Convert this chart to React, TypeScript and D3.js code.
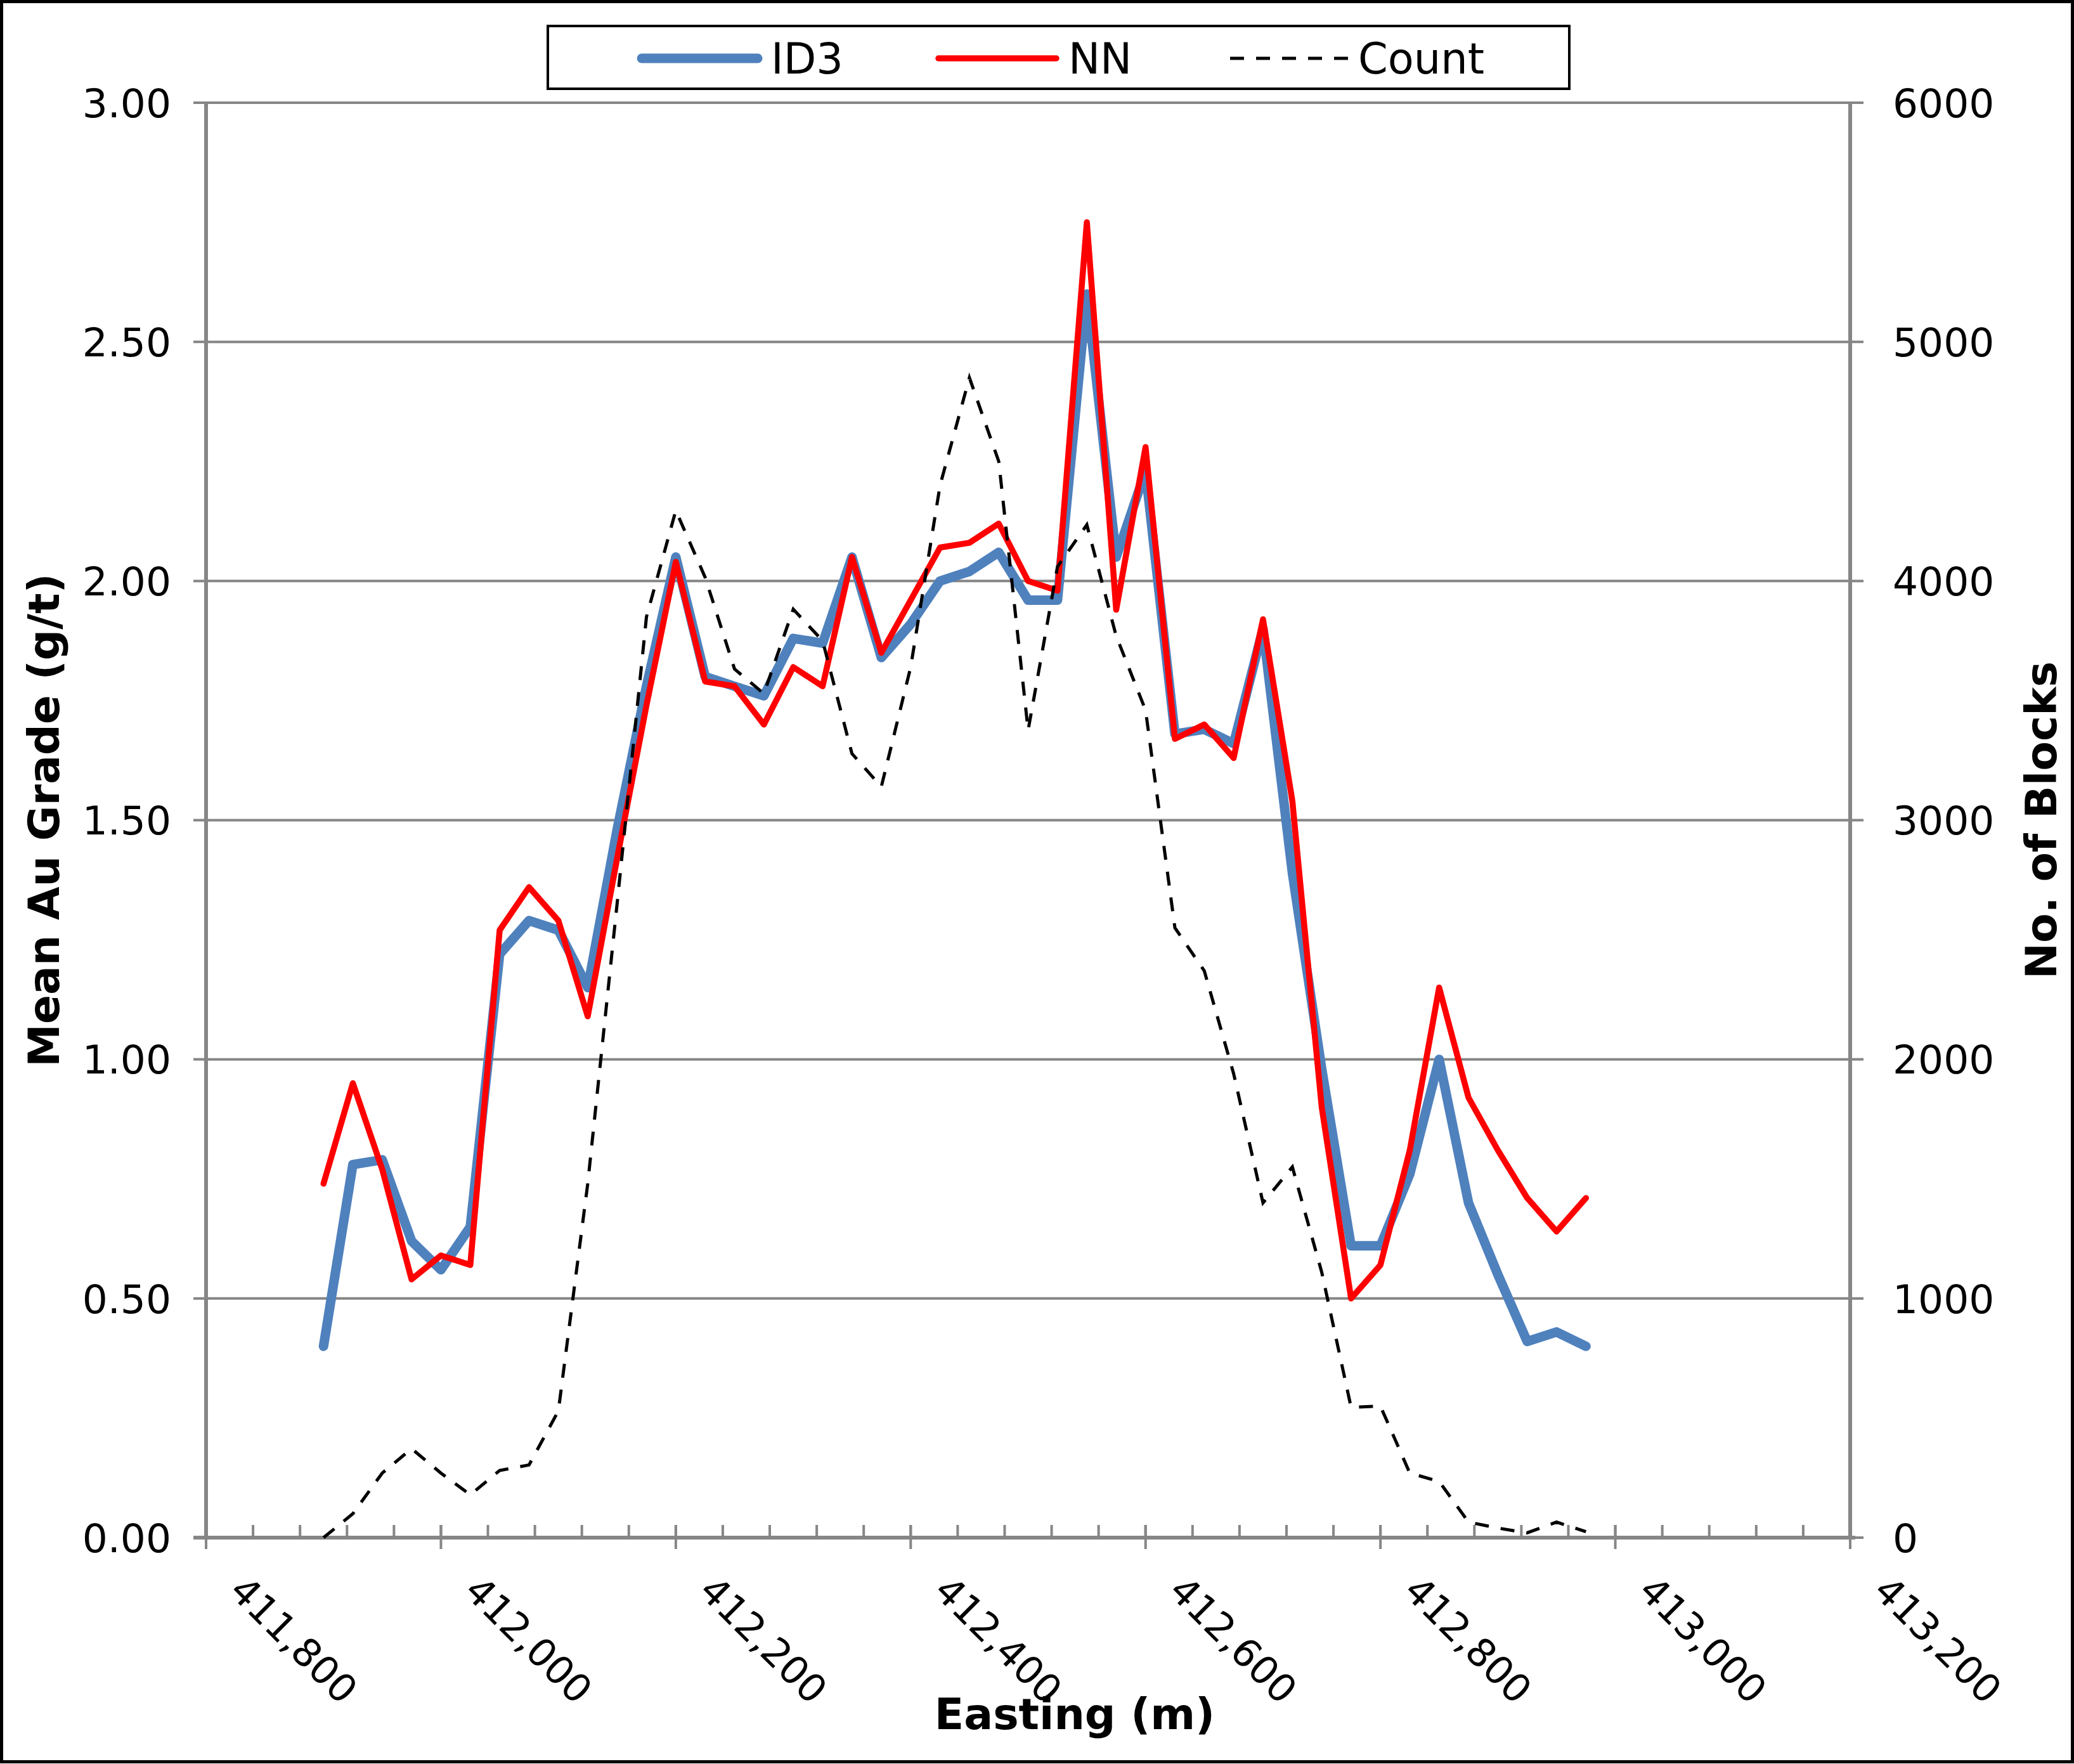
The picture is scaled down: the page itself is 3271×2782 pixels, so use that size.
import React from 'react';
import * as d3 from 'd3';

const eastings = [
  411900, 411925, 411950, 411975, 412000, 412025, 412050, 412075, 412100, 412125,
  412150, 412175, 412200, 412225, 412250, 412275, 412300, 412325, 412350, 412375,
  412400, 412425, 412450, 412475, 412500, 412525, 412550, 412575, 412600, 412625,
  412650, 412675, 412700, 412725, 412750, 412775, 412800, 412825, 412850, 412875,
  412900, 412925, 412950, 412975,
];

const id3 = [
  0.40, 0.78, 0.79, 0.62, 0.56, 0.65, 1.22, 1.29, 1.27, 1.15,
  1.48, 1.78, 2.05, 1.80, 1.78, 1.76, 1.88, 1.87, 2.05, 1.84,
  1.91, 2.00, 2.02, 2.06, 1.96, 1.96, 2.60, 2.05, 2.23, 1.68,
  1.69, 1.66, 1.90, 1.39, 0.98, 0.61, 0.61, 0.76, 1.00, 0.70,
  0.55, 0.41, 0.43, 0.40,
];

const nn = [
  0.74, 0.95, 0.77, 0.54, 0.59, 0.57, 1.27, 1.36, 1.29, 1.09,
  1.42, 1.74, 2.04, 1.79, 1.78, 1.70, 1.82, 1.78, 2.05, 1.85,
  1.96, 2.07, 2.08, 2.12, 2.00, 1.98, 2.75, 1.94, 2.28, 1.67,
  1.70, 1.63, 1.92, 1.54, 0.90, 0.50, 0.57, 0.81, 1.15, 0.92,
  0.81, 0.71, 0.64, 0.71,
];

const counts = [
  0, 100, 270, 372, 270, 179, 281, 304, 530, 1480,
  2650, 3850, 4295, 4015, 3632, 3529, 3882, 3750, 3278, 3140,
  3640, 4400, 4850, 4500, 3376, 4060, 4235, 3770, 3460, 2550,
  2370, 1940, 1400, 1550, 1110, 545, 550, 270, 235, 65,
  40, 20, 65, 25,
];

const leftTicks = [0, 0.5, 1.0, 1.5, 2.0, 2.5, 3.0];
const rightTicks = [0, 1000, 2000, 3000, 4000, 5000, 6000];
const xTicks = [411800, 412000, 412200, 412400, 412600, 412800, 413000, 413200];

const W = 3271;
const H = 2782;
const PL = 325;
const PR = 2918;
const PT = 162;
const PB = 2425;
const AXIS = '#868686';
const FONT = '"DejaVu Sans", Verdana, sans-serif';

export default function App() {
  const x = d3.scaleLinear().domain([411800, 413200]).range([PL, PR]);
  const yL = d3.scaleLinear().domain([0, 3]).range([PB, PT]);
  const yR = d3.scaleLinear().domain([0, 6000]).range([PB, PT]);
  const minor = d3.range(411800, 413201, 40);

  const lineL = d3
    .line<number>()
    .x((_, i) => x(eastings[i]))
    .y((d) => yL(d));
  const lineR = d3
    .line<number>()
    .x((_, i) => x(eastings[i]))
    .y((d) => yR(d));

  const fmtL = d3.format('.2f');
  const fmtX = d3.format(',');

  return (
    <svg
      width={W}
      height={H}
      style={{ position: 'absolute', left: 0, top: 0, background: '#fff' }}
      fontFamily={FONT}
    >
      <rect x={0} y={0} width={W} height={H} fill="#fff" />
      <rect x={2.5} y={2.5} width={W - 5} height={H - 6} fill="none" stroke="#000" strokeWidth={5} />

      {/* gridlines */}
      {leftTicks.slice(1).map((t) => (
        <line key={'g' + t} x1={PL} x2={PR} y1={yL(t)} y2={yL(t)} stroke={AXIS} strokeWidth={4} />
      ))}

      {/* left axis */}
      <line x1={PL} x2={PL} y1={PT} y2={PB} stroke={AXIS} strokeWidth={6} />
      {leftTicks.map((t) => (
        <g key={'l' + t}>
          <line x1={PL - 20} x2={PL} y1={yL(t)} y2={yL(t)} stroke={AXIS} strokeWidth={4} />
          <text x={270} y={yL(t)} dy="0.36em" textAnchor="end" fontSize={63} fill="#000">
            {fmtL(t)}
          </text>
        </g>
      ))}

      {/* right axis */}
      <line x1={PR} x2={PR} y1={PT} y2={PB} stroke={AXIS} strokeWidth={6} />
      {rightTicks.map((t) => (
        <g key={'r' + t}>
          <line x1={PR} x2={PR + 21} y1={yR(t)} y2={yR(t)} stroke={AXIS} strokeWidth={4} />
          <text x={2985} y={yR(t)} dy="0.36em" textAnchor="start" fontSize={63} fill="#000">
            {t}
          </text>
        </g>
      ))}

      {/* bottom axis */}
      {minor.map((t) => (
        <line key={'m' + t} x1={x(t)} x2={x(t)} y1={PB - 20} y2={PB} stroke={AXIS} strokeWidth={4} />
      ))}
      {xTicks.map((t) => (
        <line key={'M' + t} x1={x(t)} x2={x(t)} y1={PB - 20} y2={PB + 18} stroke={AXIS} strokeWidth={4} />
      ))}
      <line x1={PL - 20} x2={PR + 8} y1={PB} y2={PB} stroke={AXIS} strokeWidth={6} />
      {xTicks.map((t) => (
        <text
          key={'xl' + t}
          transform={`translate(${x(t) + 34},${2512}) rotate(45)`}
          textAnchor="start"
          fontSize={61}
          fill="#000"
        >
          {fmtX(t)}
        </text>
      ))}

      {/* series */}
      <path d={lineL(id3) || ''} fill="none" stroke="#4F81BD" strokeWidth={15} strokeLinejoin="round" strokeLinecap="round" />
      <path d={lineL(nn) || ''} fill="none" stroke="#FF0000" strokeWidth={9.5} strokeLinejoin="round" strokeLinecap="round" />
      <path d={lineR(counts) || ''} fill="none" stroke="#000" strokeWidth={5} strokeDasharray="22,19" />

      {/* axis titles */}
      <text transform={`translate(93,${(PT + PB) / 2}) rotate(-90)`} textAnchor="middle" fontSize={68} fontWeight="bold" fill="#000">
        Mean Au Grade (g/t)
      </text>
      <text transform={`translate(3243,${(PT + PB) / 2}) rotate(-90)`} textAnchor="middle" fontSize={68} fontWeight="bold" fill="#000">
        No. of Blocks
      </text>
      <text x={1695} y={2727} textAnchor="middle" fontSize={68} fontWeight="bold" fill="#000">
        Easting (m)
      </text>

      {/* legend */}
      <rect x={864} y={41} width={1611} height={99} fill="#fff" stroke="#000" strokeWidth={4} />
      <line x1={1012} x2={1195} y1={92} y2={92} stroke="#4F81BD" strokeWidth={15} strokeLinecap="round" />
      <text x={1216} y={116} fontSize={67} fill="#000">ID3</text>
      <line x1={1480} x2={1666} y1={92} y2={92} stroke="#FF0000" strokeWidth={9.5} strokeLinecap="round" />
      <text x={1685} y={116} fontSize={67} fill="#000">NN</text>
      <line x1={1940} x2={2130} y1={92} y2={92} stroke="#000" strokeWidth={5} strokeDasharray="22,19" />
      <text x={2142} y={116} fontSize={67} fill="#000">Count</text>
    </svg>
  );
}
